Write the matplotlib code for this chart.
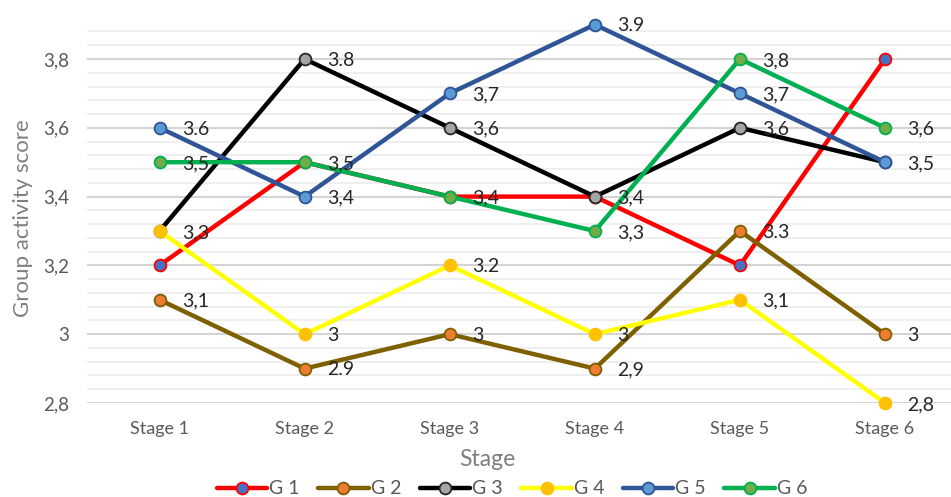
import matplotlib
matplotlib.use("Agg")
import matplotlib.pyplot as plt
import numpy as np

stages = ["Stage 1", "Stage 2", "Stage 3", "Stage 4", "Stage 5", "Stage 6"]
series_names = ["G 1", "G 2", "G 3", "G 4", "G 5", "G 6"]
g1 = [3.2, 3.5, 3.4, 3.4, 3.2, 3.8]
g2 = [3.1, 2.9, 3.0, 2.9, 3.3, 3.0]
g3 = [3.3, 3.8, 3.6, 3.4, 3.6, 3.5]
g4 = [3.3, 3.0, 3.2, 3.0, 3.1, 2.8]
g5 = [3.6, 3.4, 3.7, 3.9, 3.7, 3.5]
g6 = [3.5, 3.5, 3.4, 3.3, 3.8, 3.6]
labels_g1 = [None, None, None, None, None, None]
labels_g2 = ["3,1", "2.9", "3", "2,9", "3.3", "3"]
labels_g3 = [None, "3.8", "3,6", "3,4", "3,6", None]
labels_g4 = ["3,3", "3", "3.2", "3", "3,1", "2,8"]
labels_g5 = ["3.6", "3,4", "3,7", "3.9", "3,7", "3,5"]
labels_g6 = ["3,5", "3,5", "3,4", "3,3", "3,8", "3,6"]
y_ticks = [2.8, 3.0, 3.2, 3.4, 3.6, 3.8]
y_tick_labels = ["2,8", "3", "3,2", "3,4", "3,6", "3,8"]

values = [g1, g2, g3, g4, g5, g6]
labels = [labels_g1, labels_g2, labels_g3, labels_g4, labels_g5, labels_g6]
line_colors = ["#ff0000", "#7f6000", "#000000", "#ffff00", "#2f5597", "#00b050"]
face_colors = ["#4472c4", "#ed7d31", "#a5a5a5", "#ffc000", "#5b9bd5", "#70ad47"]
edge_colors = ["#ff0000", "#7f6000", "#262626", "#ffc000", "#2f5597", "#00b050"]

plt.rcParams['font.family'] = ['Lato', 'DejaVu Sans']

W, H = 951, 497
fig = plt.figure(figsize=(W / 100, H / 100), dpi=100)
left_px, right_px = 87, 951
ymin, ymax = 2.8, 3.9
bottom_px = 403
top_px = 403 - (ymax - ymin) * 344
ax = fig.add_axes([left_px / W, (H - bottom_px) / H, (right_px - left_px) / W, (bottom_px - top_px) / H])

x = np.arange(len(stages))
for i in range(6):
    ax.plot(x, values[i], color=line_colors[i], lw=3.2, marker='o', markersize=8.5,
            markerfacecolor=face_colors[i], markeredgecolor=edge_colors[i], markeredgewidth=1.3,
            label=series_names[i], zorder=3 + i, clip_on=False, solid_capstyle='round')
    for j in range(len(stages)):
        if labels[i][j] is not None:
            ax.annotate(labels[i][j], (x[j], values[i][j]), xytext=(16, -1), textcoords='offset points',
                        ha='left', va='center', fontsize=14, color='#262626', zorder=20)

ax.set_xlim(-0.5, (right_px - 159) / 145.2)
ax.set_ylim(ymin, ymax)
ax.set_yticks(y_ticks)
ax.set_yticklabels(y_tick_labels)
ax.set_yticks(np.arange(2.8, 3.9, 0.04), minor=True)
ax.set_xticks(x)
ax.set_xticklabels(stages)
ax.grid(axis='y', which='minor', color='#ececec', lw=1.2, zorder=0)
ax.grid(axis='y', which='major', color='#d4d4d4', lw=1.5, zorder=1)
ax.set_axisbelow(True)
for s in ax.spines.values():
    s.set_visible(False)
ax.tick_params(axis='both', which='both', length=0)
ax.tick_params(axis='y', labelsize=13.5, labelcolor='#595959', pad=13)
ax.tick_params(axis='x', labelsize=13, labelcolor='#595959', pad=13)

ax.set_xlabel("Stage", fontsize=16.5, color='#7f7f7f')
ax.xaxis.set_label_coords((487 - left_px) / (right_px - left_px), -(449 - bottom_px) / (bottom_px - top_px))
ax.set_ylabel("Group activity score", fontsize=16, color='#7f7f7f')
ax.yaxis.set_label_coords(-(left_px - 33) / (right_px - left_px), (bottom_px - 218) / (bottom_px - top_px))

fig.legend(loc='center', bbox_to_anchor=(512 / W, 1 - 489 / H), ncol=6, frameon=False,
           fontsize=14, handlelength=2.6, handletextpad=0.1, columnspacing=0.95,
           labelcolor='#595959')

fig.savefig("out.png", dpi=100)
